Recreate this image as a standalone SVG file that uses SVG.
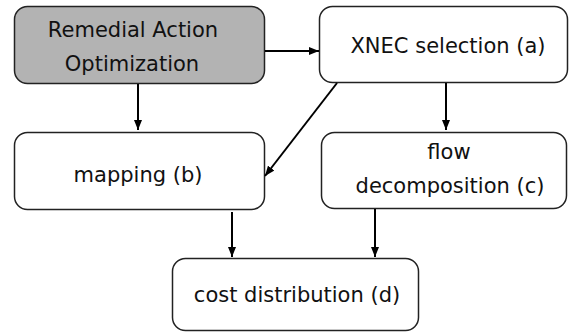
<svg xmlns="http://www.w3.org/2000/svg" width="569" height="332" viewBox="0 0 569 332">
<defs>
<marker id="ah" markerWidth="10" markerHeight="8" refX="10" refY="4" orient="auto" markerUnits="userSpaceOnUse">
<path d="M0,0 L10,4 L0,8 Z" fill="#000"/>
</marker>
<style>
.box{fill:#fff;stroke:#222;stroke-width:1.5}
.gray{fill:#b3b3b3}
.t{font-family:"DejaVu Sans",sans-serif;font-size:21px;fill:#111;text-anchor:middle}
.c{stroke:#000;stroke-width:2;fill:none;marker-end:url(#ah)}
</style>
</defs>
<g id="rao">
<rect class="box gray" x="14.5" y="6.5" width="250" height="77" rx="13"/>
<text class="t" x="133" y="37">Remedial Action</text>
<text class="t" x="132" y="71">Optimization</text>
</g>
<g id="xnec">
<rect class="box" x="319.5" y="6.5" width="248" height="76" rx="13"/>
<text class="t" x="448" y="53">XNEC selection (a)</text>
</g>
<g id="mapping">
<rect class="box" x="14.5" y="132.5" width="250" height="77" rx="13"/>
<text class="t" x="138" y="182">mapping (b)</text>
</g>
<g id="flow">
<rect class="box" x="321.5" y="132.5" width="245" height="76" rx="13"/>
<text class="t" x="449" y="159">flow</text>
<text class="t" x="450" y="193">decomposition (c)</text>
</g>
<g id="cost">
<rect class="box" x="172.5" y="258.5" width="246" height="72" rx="13"/>
<text class="t" x="297" y="302">cost distribution (d)</text>
</g>
<g id="connectors">
<line class="c" x1="265" y1="51" x2="319" y2="51"/>
<line class="c" x1="138" y1="84" x2="138" y2="130"/>
<line class="c" x1="446" y1="83" x2="446" y2="130"/>
<line class="c" x1="337" y1="83" x2="265" y2="176"/>
<line class="c" x1="232" y1="212" x2="232" y2="257"/>
<line class="c" x1="375" y1="209" x2="375" y2="257"/>
</g>
</svg>
